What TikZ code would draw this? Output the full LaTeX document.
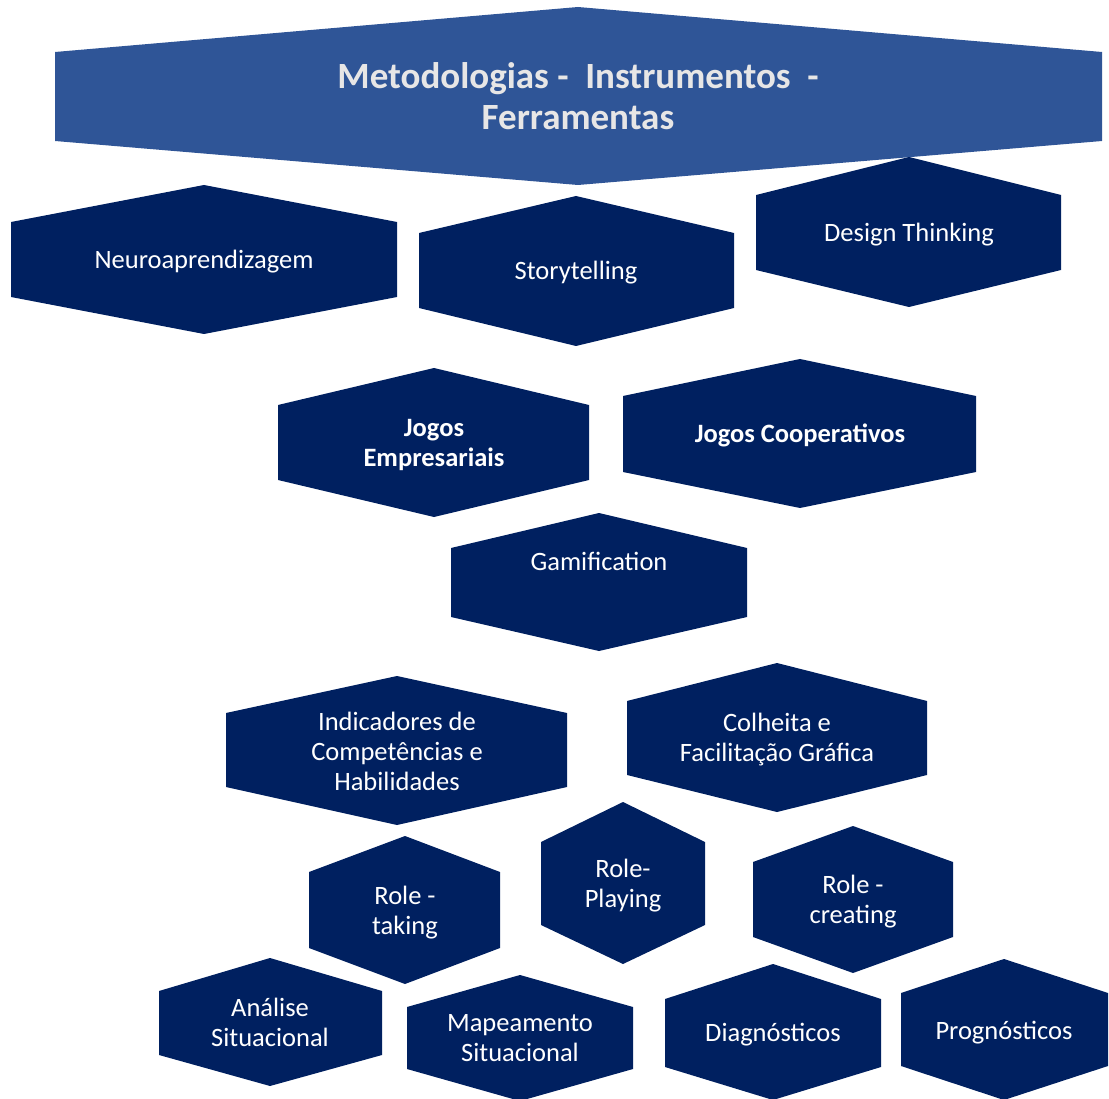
\documentclass[tikz,border=0pt]{standalone}
\usepackage{fontspec}
\setmainfont{Carlito}
\usetikzlibrary{positioning}

\definecolor{navyhex}{HTML}{002060}
\definecolor{headblue}{HTML}{2F5597}
\definecolor{headtext}{HTML}{E7E6E6}

\begin{document}
\begin{tikzpicture}[
    x=1pt, y=-1pt,
    hex/.style={fill=navyhex},
    headhex/.style={fill=headblue},
    label_text/.style={text=white, align=center, inner sep=0pt, font=\fontsize{26.5}{30}\selectfont},
    bold_text/.style={label_text, font=\fontsize{26.5}{30}\selectfont\bfseries},
    head_text/.style={text=headtext, align=center, inner sep=0pt, font=\fontsize{37}{41}\selectfont\bfseries}
]
    \useasboundingbox (0,0) rectangle (1109,1099);

    % Header
    \fill[headhex] (55,52) -- (578,7) -- (1102,52) -- (1102,141) -- (578,185) -- (55,141) -- cycle;
    \node[head_text] (header) at (578,96) {Metodologias - \ Instrumentos \ -\\Ferramentas};

    % First row
    \fill[hex] (11,222) -- (204,185) -- (397,222) -- (397,297) -- (204,334) -- (11,297) -- cycle;
    \node[label_text] (neuro) at (204,262) {Neuroaprendizagem};

    \fill[hex] (419,233) -- (576,196) -- (734,233) -- (734,308) -- (576,346) -- (419,308) -- cycle;
    \node[label_text] (story) at (576,273) {Storytelling};

    \fill[hex] (756,195) -- (909,157) -- (1061,195) -- (1061,270) -- (909,307) -- (756,270) -- cycle;
    \node[label_text] (design) at (909,235) {Design Thinking};

    % Jogos
    \fill[hex] (278,405) -- (434,368) -- (589,405) -- (589,480) -- (434,517) -- (278,480) -- cycle;
    \node[bold_text] (jogosemp) at (434,445) {Jogos\\Empresariais};

    \fill[hex] (623,396) -- (800,359) -- (976,396) -- (976,472) -- (800,508) -- (623,472) -- cycle;
    \node[bold_text] (jogoscoop) at (800,435) {Jogos Cooperativos};

    \fill[hex] (451,548) -- (599,513) -- (747,548) -- (747,617) -- (599,651) -- (451,617) -- cycle;
    \node[label_text] (gamif) at (599,561) {Gamification};

    % Indicadores / Colheita
    \fill[hex] (226,713) -- (397,676) -- (567,713) -- (567,787) -- (397,825) -- (226,787) -- cycle;
    \node[label_text] (indic) at (397,751) {Indicadores de\\Competências e\\Habilidades};

    \fill[hex] (627,701) -- (777,663) -- (927,701) -- (927,775) -- (777,812) -- (627,775) -- cycle;
    \node[label_text] (colheita) at (777,740) {Colheita e\\Facilitação Gráfica};

    % Role hexagons
    \fill[hex] (309,872) -- (405,836) -- (500,872) -- (500,948) -- (405,984) -- (309,948) -- cycle;
    \node[label_text] (roletaking) at (405,913) {Role -\\taking};

    \fill[hex] (541,842) -- (623,802) -- (705,842) -- (705,925) -- (623,964) -- (541,925) -- cycle;
    \node[label_text] (roleplaying) at (623,886) {Role-\\Playing};

    \fill[hex] (753,862) -- (853,826) -- (953,862) -- (953,937) -- (853,973) -- (753,937) -- cycle;
    \node[label_text] (rolecreating) at (853,902) {Role -\\creating};

    % Bottom row
    \fill[hex] (159,991) -- (270,958) -- (382,991) -- (382,1055) -- (270,1086) -- (159,1055) -- cycle;
    \node[label_text] (analise) at (270,1022) {Análise\\Situacional};

    \fill[hex] (407,1007) -- (520,975) -- (633,1007) -- (633,1069) -- (520,1101) -- (407,1069) -- cycle;
    \node[label_text] (mapeamento) at (520,1038) {Mapeamento\\Situacional};

    \fill[hex] (665,999) -- (773,964) -- (881,999) -- (881,1067) -- (773,1100) -- (665,1067) -- cycle;
    \node[label_text] (diagn) at (773,1035) {Diagnósticos};

    \fill[hex] (901,993) -- (1004,959) -- (1108,993) -- (1108,1066) -- (1004,1100) -- (901,1066) -- cycle;
    \node[label_text] (progn) at (1004,1033) {Prognósticos};

\end{tikzpicture}
\end{document}
